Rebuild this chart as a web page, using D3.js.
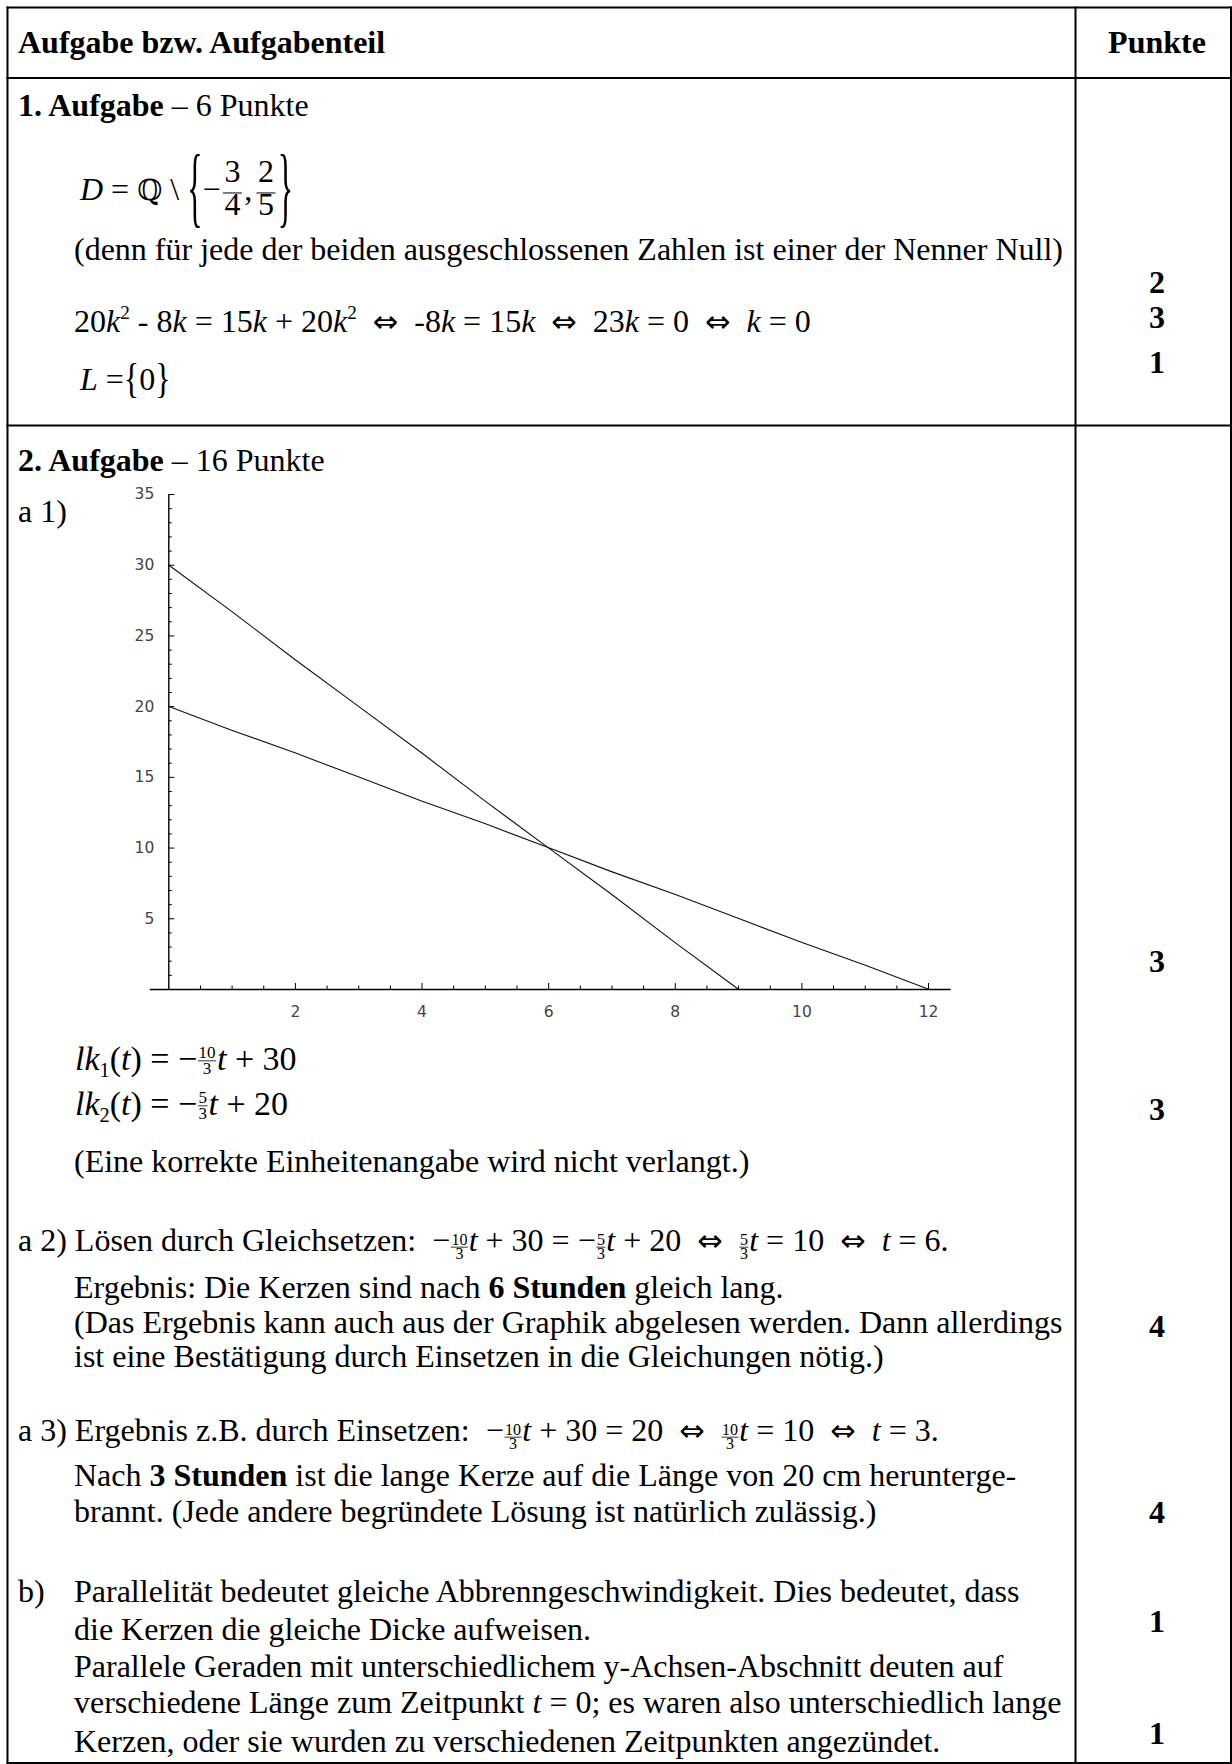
<!DOCTYPE html>
<html><head><meta charset="utf-8">
<script src="https://cdn.jsdelivr.net/npm/d3@7/dist/d3.min.js"></script>
<style>
html,body{margin:0;padding:0;background:#fff;}
svg text{white-space:pre;}
</style></head>
<body>
<svg id="c" width="1232" height="1764"></svg>
<script>
// ---------- data ----------
const line1T   = [0, 1, 2, 3, 4, 5, 6, 7, 8, 9];
const line1Len = [30, 26.7, 23.3, 20, 16.7, 13.3, 10, 6.7, 3.3, 0];
const line2T   = [0, 1, 2, 3, 4, 5, 6, 7, 8, 9, 10, 11, 12];
const line2Len = [20, 18.3, 16.7, 15, 13.3, 11.7, 10, 8.3, 6.7, 5, 3.3, 1.7, 0];
const xTickLabels = [2, 4, 6, 8, 10, 12];
const yTickLabels = [5, 10, 15, 20, 25, 30, 35];
const pointsTask1 = ["2", "3", "1"];
const pointsTask2 = ["3", "3", "4", "4", "1", "1"];

// ---------- setup ----------
const svg = d3.select("#c");
const SERIF = "'Liberation Serif','Times New Roman',serif";
const FS = 32, SX = 1;

svg.append("rect").attr("width",1232).attr("height",1764).attr("fill","#fff");

// token helpers
const txt = (s, o = {}) => (g, cx, fs) => {
  const el = g.append("text").attr("x", cx).attr("y", (o.dyEm || 0) * fs)
    .attr("font-family", o.family || SERIF)
    .attr("font-size", (o.scale || 1) * fs)
    .attr("font-weight", o.bold ? "bold" : null)
    .attr("font-style", o.italic ? "italic" : null)
    .attr("fill", "#000")
    .text(s);
  return el.node().getComputedTextLength() + (o.after || 0) * fs;
};
const R = s => txt(s);
const B = s => txt(s, {bold: true});
const I = s => txt(s, {italic: true});
const SUB = s => txt(s, {scale: 0.6, dyEm: 0.22});
const SUP = s => txt(s, {scale: 0.6, dyEm: -0.42});
const DS = s => txt(s, {family: "'DejaVu Serif',serif", scale: 0.9});
const AR = () => txt("\u21D4", {family: "'DejaVu Sans',sans-serif", scale: 0.95});
const frac = (n, d, o) => (g, cx, fs) => {
  const s = o.scale * fs;
  const tn = g.append("text").attr("font-family", SERIF).attr("font-size", s)
    .attr("y", o.ny * fs).text(n);
  const td = g.append("text").attr("font-family", SERIF).attr("font-size", s)
    .attr("y", o.dy * fs).text(d);
  const wn = tn.node().getComputedTextLength(), wd = td.node().getComputedTextLength();
  const w = Math.max(wn, wd) + 2 * o.pad * fs;
  tn.attr("x", cx + (w - wn) / 2);
  td.attr("x", cx + (w - wd) / 2);
  g.append("line").attr("x1", cx + o.pad * fs * 0.6).attr("x2", cx + w - o.pad * fs * 0.6)
    .attr("y1", o.by * fs).attr("y2", o.by * fs)
    .attr("stroke", "#000").attr("stroke-width", o.sw);
  return w;
};
// inline small fraction (text lines)
const FR = (n, d) => frac(n, d, {scale: 0.5, ny: -0.19, by: -0.12, dy: 0.25, pad: 0.04, sw: 0.8});
// small fraction in the lk formulas
const FRL = (n, d) => frac(n, d, {scale: 0.5, ny: -0.36, by: -0.27, dy: 0.12, pad: 0.04, sw: 0.8});
// big fraction in set D
const BFR = (n, d) => frac(n, d, {scale: 1, ny: -0.56, by: -0.22, dy: 0.47, pad: 0.12, sw: 1});
const BRACE = (ch, k, center) => (g, cx, fs) => {
  const ty = center * fs + 0.25 * fs * k;
  const el = g.append("text").attr("font-family", SERIF).attr("font-size", fs)
    .attr("transform", `translate(${cx},${ty}) scale(1,${k})`).text(ch);
  return el.node().getComputedTextLength();
};

function line(x, y, toks, fs = FS, sx = SX) {
  const g = svg.append("g").attr("transform", `translate(${x},${y}) scale(${sx},1)`);
  let cx = 0;
  toks.forEach(t => { cx += t(g, cx, fs); });
  return g;
}
function centered(x, y, s, bold) {
  svg.append("text").attr("transform", `translate(${x},${y}) scale(${SX},1)`)
    .attr("text-anchor", "middle").attr("font-family", SERIF).attr("font-size", FS)
    .attr("font-weight", bold ? "bold" : null).text(s);
}

// ---------- table ----------
const LX = 18, IX = 74, PX = 1157;
const hl = (x1, x2, y, w = 2) => svg.append("line").attr("x1", x1).attr("x2", x2)
  .attr("y1", y).attr("y2", y).attr("stroke", "#000").attr("stroke-width", w);
const vl = (x, y1, y2, w = 2) => svg.append("line").attr("x1", x).attr("x2", x)
  .attr("y1", y1).attr("y2", y2).attr("stroke", "#000").attr("stroke-width", w);
hl(6.5, 1232, 7.5); hl(6.5, 1232, 78); hl(6.5, 1232, 425.5); hl(6.5, 1232, 1763);
vl(7.5, 6.5, 1764); vl(1075.5, 6.5, 1764); vl(1231, 6.5, 1764);

// header
line(LX, 53, [B("Aufgabe bzw. Aufgabenteil")]);
centered(PX, 53, "Punkte", true);

// ---------- task 1 ----------
line(LX, 116, [B("1. Aufgabe"), R(" \u2013 6 Punkte")]);
line(80, 200, [I("D"), R(" = "), DS("\u211A"), R(" \\ "), BRACE("{", 2.8, -0.2),
  R("\u2212"), BFR("3", "4"), txt(",", {after: 0.06}), BFR("2", "5"), BRACE("}", 2.8, -0.2)]);
line(IX, 260, [R("(denn f\u00FCr jede der beiden ausgeschlossenen Zahlen ist einer der Nenner Null)")]);
line(IX, 332, [R("20"), I("k"), SUP("2"), R(" - 8"), I("k"), R(" = 15"), I("k"), R(" + 20"), I("k"), SUP("2"),
  R("  "), AR(), R("  -8"), I("k"), R(" = 15"), I("k"), R("  "), AR(), R("  23"), I("k"), R(" = 0  "),
  AR(), R("  "), I("k"), R(" = 0")]);
line(80, 390, [I("L"), R(" ="), BRACE("{", 1.34, -0.27), R("0"), BRACE("}", 1.34, -0.27)]);
[293, 328, 373].forEach((yy, i) => centered(PX, yy, pointsTask1[i], true));

// ---------- task 2 ----------
line(LX, 471, [B("2. Aufgabe"), R(" \u2013 16 Punkte")]);
line(LX, 522, [R("a 1)")]);

// chart
const x = d3.scaleLinear().domain([0, 12]).range([168.3, 928]);
const y = d3.scaleLinear().domain([0, 35]).range([989, 494]);
const xa = x.copy().domain([-0.3, 12.35]).range([x(-0.3), x(12.35)]);
const chart = svg.append("g");
const styleAxis = (g, minor) => {
  g.select(".domain").attr("stroke", "#000").attr("stroke-width", 1.4);
  g.selectAll(".tick line").attr("stroke", "#000").attr("stroke-width", 1);
  g.selectAll(".tick text").attr("font-family", "'DejaVu Sans',sans-serif")
    .attr("font-size", 15.5).attr("fill", "#444");
  if (minor) g.select(".domain").remove();
};
const isMajorX = v => Math.abs(v / 2 - Math.round(v / 2)) < 1e-6;
const minorX = d3.range(0.5, 12.3, 0.5).filter(v => !isMajorX(v));
const minorY = d3.range(1, 35, 1).filter(v => v % 5 !== 0);
chart.append("g").attr("transform", `translate(0,${y(0)})`)
  .call(d3.axisBottom(xa).tickValues(minorX).tickSizeInner(-3.5).tickSizeOuter(0).tickFormat(""))
  .call(g => styleAxis(g, true));
chart.append("g").attr("transform", `translate(${x(0)},0)`)
  .call(d3.axisLeft(y).tickValues(minorY).tickSizeInner(-3.5).tickSizeOuter(0).tickFormat(""))
  .call(g => styleAxis(g, true));
chart.append("g").attr("transform", `translate(0,${y(0)})`)
  .call(d3.axisBottom(xa).tickValues(xTickLabels).tickSizeInner(-6).tickSizeOuter(0).tickPadding(17))
  .call(g => styleAxis(g, false));
chart.append("g").attr("transform", `translate(${x(0)},0)`)
  .call(d3.axisLeft(y).tickValues(yTickLabels).tickSizeInner(-6).tickSizeOuter(0).tickPadding(14))
  .call(g => styleAxis(g, false));

const lineGen = d3.line().x(d => x(d[0])).y(d => y(d[1]));
[[line1T, line1Len], [line2T, line2Len]].forEach(([ts, vs]) => {
  chart.append("path").datum(ts.map((t, i) => [t, vs[i]]))
    .attr("d", lineGen).attr("fill", "none").attr("stroke", "#111").attr("stroke-width", 1.1);
});

// formulas
const LKFS = 34;
line(75, 1070, [I("lk"), SUB("1"), R("("), I("t"), R(") = "), R("\u2212"), FRL("10", "3"), I("t"), R(" + 30")], LKFS);
line(75, 1115, [I("lk"), SUB("2"), R("("), I("t"), R(") = "), R("\u2212"), FRL("5", "3"), I("t"), R(" + 20")], LKFS);
line(IX, 1172, [R("(Eine korrekte Einheitenangabe wird nicht verlangt.)")]);

line(LX, 1251, [R("a 2) L\u00F6sen durch Gleichsetzen:  "), R("\u2212"), FR("10", "3"), I("t"), R(" + 30 = "),
  R("\u2212"), FR("5", "3"), I("t"), R(" + 20  "), AR(), R("  "), FR("5", "3"), I("t"), R(" = 10  "),
  AR(), R("  "), I("t"), R(" = 6.")]);
line(IX, 1298, [R("Ergebnis: Die Kerzen sind nach "), B("6 Stunden"), R(" gleich lang.")]);
line(IX, 1333, [R("(Das Ergebnis kann auch aus der Graphik abgelesen werden. Dann allerdings")]);
line(IX, 1367, [R("ist eine Best\u00E4tigung durch Einsetzen in die Gleichungen n\u00F6tig.)")]);

line(LX, 1441, [R("a 3) Ergebnis z.B. durch Einsetzen:  "), R("\u2212"), FR("10", "3"), I("t"), R(" + 30 = 20  "),
  AR(), R("  "), FR("10", "3"), I("t"), R(" = 10  "), AR(), R("  "), I("t"), R(" = 3.")]);
line(IX, 1486, [R("Nach "), B("3 Stunden"), R(" ist die lange Kerze auf die L\u00E4nge von 20 cm herunterge-")]);
line(IX, 1522, [R("brannt. (Jede andere begr\u00FCndete L\u00F6sung ist nat\u00FCrlich zul\u00E4ssig.)")]);

line(LX, 1602, [R("b)")]);
line(IX, 1602, [R("Parallelit\u00E4t bedeutet gleiche Abbrenngeschwindigkeit. Dies bedeutet, dass")]);
line(IX, 1640, [R("die Kerzen die gleiche Dicke aufweisen.")]);
line(IX, 1677, [R("Parallele Geraden mit unterschiedlichem y-Achsen-Abschnitt deuten auf")]);
line(IX, 1713, [R("verschiedene L\u00E4nge zum Zeitpunkt "), I("t"), R(" = 0; es waren also unterschiedlich lange")]);
line(IX, 1752, [R("Kerzen, oder sie wurden zu verschiedenen Zeitpunkten angez\u00FCndet.")]);

[972, 1120, 1337, 1523, 1632, 1744].forEach((yy, i) => centered(PX, yy, pointsTask2[i], true));
</script>
</body></html>
